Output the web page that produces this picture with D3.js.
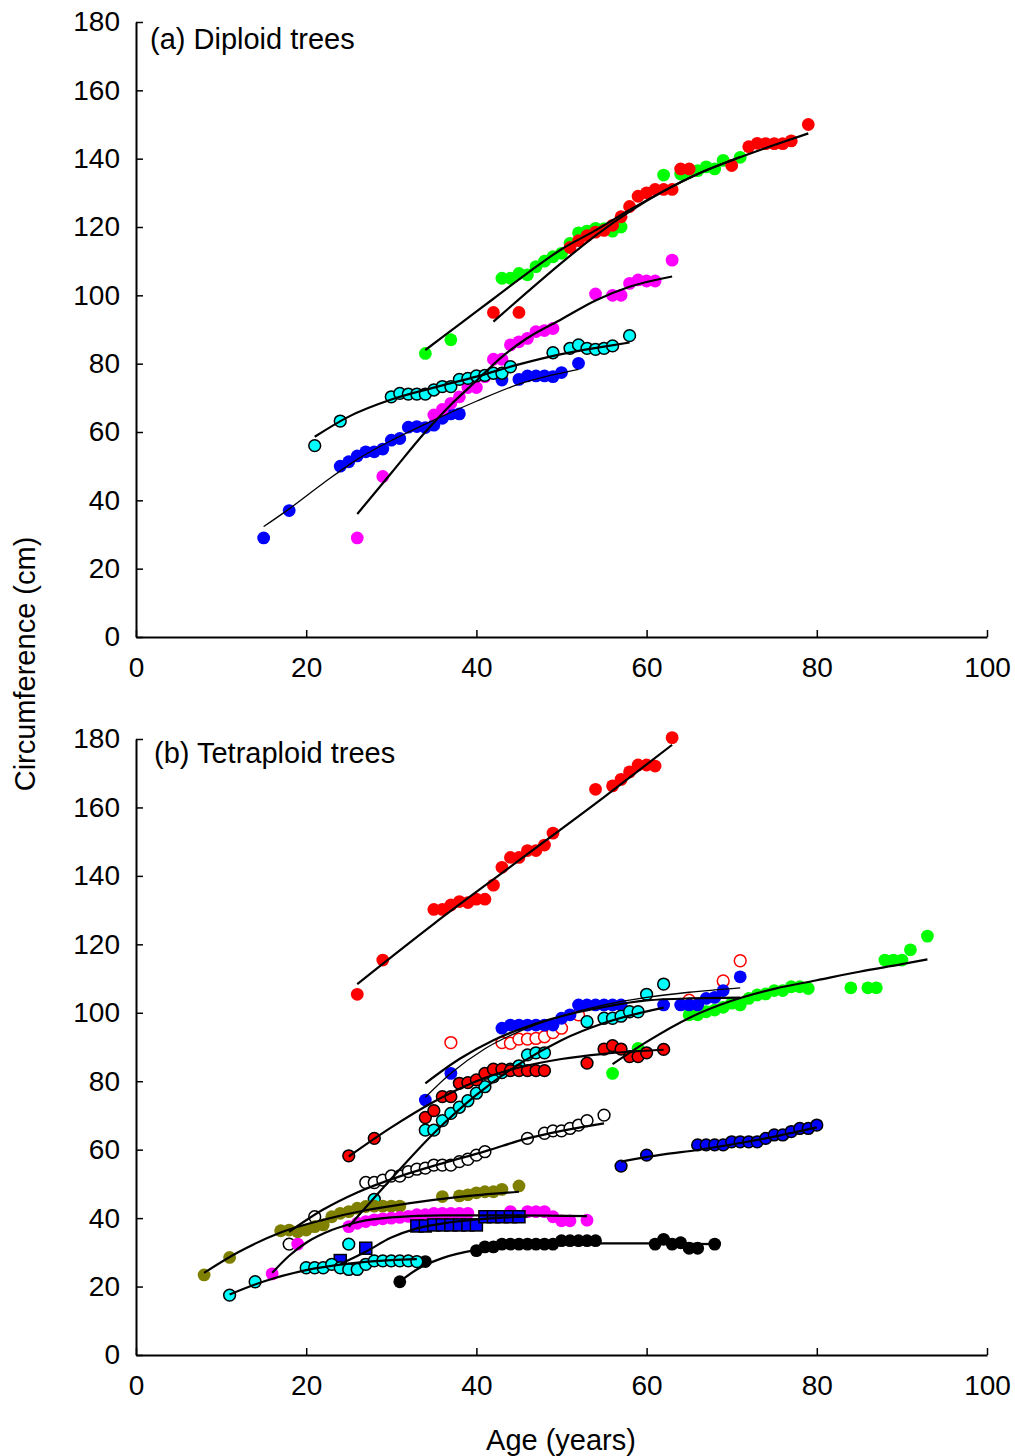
<!DOCTYPE html>
<html>
<head>
<meta charset="utf-8">
<script src="https://cdn.jsdelivr.net/npm/d3@7"></script>
<style>
  body { margin: 0; background: #fff; }
  text { font-family: "Liberation Sans", Arial, sans-serif; fill: #000; }
</style>
</head>
<body>
<script>
// axis ticks
const ageTicks = [0, 20, 40, 60, 80, 100]
const circTicks = [0, 20, 40, 60, 80, 100, 120, 140, 160, 180]

// ---- (a) diploid trees: observed points ----
const dipRedAge = [42, 45, 51, 52, 53, 54, 55, 56, 57, 58, 59, 60, 61, 62, 63, 64, 65, 70, 72, 73, 74, 75, 76, 77, 79]
const dipRedCirc = [95, 95, 114, 116, 117.5, 118.5, 119, 120.5, 123, 126, 129, 130, 131, 131, 131, 137, 137, 138, 143.5, 144.5, 144.4, 144.4, 144.4, 145.2, 150]
const dipGreenAge = [34, 37, 43, 44, 45, 46, 47, 48, 49, 50, 51, 52, 53, 54, 55, 56, 57, 62, 64, 65, 66, 67, 68, 69, 71]
const dipGreenCirc = [83, 87, 105, 105, 106.4, 106, 108.4, 110, 111.3, 112.3, 115.2, 118.3, 118.8, 119.6, 119.5, 118.8, 120, 135.2, 135.5, 136, 136.5, 137.6, 137, 139.5, 140.4]
const dipMagentaAge = [26, 29, 35, 36, 37, 38, 39, 40, 41, 42, 43, 44, 45, 46, 47, 48, 49, 54, 56, 57, 58, 59, 60, 61, 63]
const dipMagentaCirc = [29, 47, 65, 66.6, 68.4, 70.3, 73, 73, 76.2, 81.3, 81.3, 85.5, 86.4, 87.4, 89.4, 89.7, 90.3, 100.4, 100, 100, 103.5, 104.5, 104.2, 104.2, 110.3]
const dipBlueAge = [15, 18, 24, 25, 26, 27, 28, 29, 30, 31, 32, 33, 34, 35, 36, 37, 38, 43, 45, 46, 47, 48, 49, 50, 52]
const dipBlueCirc = [29, 37, 50, 51.3, 53, 54.2, 54.2, 55, 57.6, 58.1, 61.4, 61.6, 61.3, 62, 64, 65.3, 65.3, 75.2, 75.4, 76.4, 76.4, 76.4, 76.2, 77.4, 80.1]
const dipCyanAge = [21, 24, 30, 31, 32, 33, 34, 35, 36, 37, 38, 39, 40, 41, 42, 43, 44, 49, 51, 52, 53, 54, 55, 56, 58]
const dipCyanCirc = [56, 63.2, 70.3, 71.3, 71.1, 71.1, 71.1, 72.3, 73.3, 73.3, 75.4, 75.7, 76.4, 76.6, 77.2, 77.2, 79.1, 83.2, 84.5, 85.5, 84.5, 84.2, 84.5, 85.2, 88.2]

// ---- (a) fitted curves ----
const dipRedFitAge = [42, 46, 50, 54, 58, 62, 66, 70, 75, 79]
const dipRedFitCirc = [92.3, 101, 109.5, 117.5, 124.5, 130.5, 135.5, 139.5, 144, 147.4]
const dipGreenFitAge = [34, 38, 42, 46, 50, 54, 58, 62, 66, 71]
const dipGreenFitCirc = [84, 91.5, 99, 106.5, 113.5, 119, 125, 130.5, 135.5, 140.5]
const dipMagentaFitAge = [26, 30, 34, 37, 40, 43, 46, 50, 54, 58, 63]
const dipMagentaFitCirc = [36, 48, 60, 68, 75, 82, 87.5, 93, 98.5, 102.5, 105.5]
const dipBlueFitAge = [15, 18, 22, 26, 30, 35, 40, 45, 52]
const dipBlueFitCirc = [32.3, 37.5, 45, 52, 57.5, 63.5, 69, 74, 78.3]
const dipCyanFitAge = [21, 25, 30, 35, 40, 45, 50, 55, 58]
const dipCyanFitCirc = [58.6, 64.5, 69.5, 73, 76.2, 79.8, 82.8, 85, 86.2]

// ---- (b) tetraploid trees: observed points ----
const tetRedAge = [26, 29, 35, 36, 37, 38, 39, 40, 41, 42, 43, 44, 45, 46, 47, 48, 49, 54, 56, 57, 58, 59, 60, 61, 63]
const tetRedCirc = [105.4, 115.4, 130.2, 130.2, 131.5, 132.5, 132.2, 133.2, 133.2, 137.3, 142.5, 145.4, 145.4, 147.4, 147.4, 149, 152.5, 165.3, 166.3, 168.2, 170.4, 172.4, 172.4, 172.1, 180.4]
const tetRedRingAge = [25, 28, 34, 35, 36, 37, 38, 39, 40, 41, 42, 43, 44, 45, 46, 47, 48, 53, 55, 56, 57, 58, 59, 60, 62]
const tetRedRingCirc = [58.2, 63.3, 69.4, 71.4, 75.5, 75.5, 79.4, 79.6, 80.4, 82.3, 83.5, 83.5, 83.1, 83.1, 83.1, 83.1, 83.1, 85.3, 89.4, 90.4, 89.4, 87.2, 87.2, 88.3, 89.3]
const tetRedOpenAge = [37, 43, 44, 45, 46, 47, 48, 49, 50, 52, 65, 69, 71]
const tetRedOpenCirc = [91.3, 91.3, 91.1, 92.3, 92.3, 92.5, 93, 94.2, 95.5, 99.4, 103.7, 109.3, 115.2]
const tetBlueAge = [34, 37, 43, 44, 45, 46, 47, 48, 49, 50, 51, 52, 53, 54, 55, 56, 57, 62, 64, 65, 66, 67, 68, 69, 71]
const tetBlueCirc = [74.5, 82.3, 95.5, 96.4, 96.4, 96.4, 96.4, 96.4, 96.4, 98.4, 99.4, 102.3, 102.3, 102.3, 102.3, 102.3, 102.3, 102.3, 102.3, 102.3, 102.3, 104.2, 104.5, 106.5, 110.5]
const tetCyanAge = [25, 28, 34, 35, 36, 37, 38, 39, 40, 41, 42, 43, 44, 45, 46, 47, 48, 53, 55, 56, 57, 58, 59, 60, 62]
const tetCyanCirc = [32.4, 45.5, 65.7, 65.7, 68.5, 70.6, 72.4, 74.3, 76.5, 78.4, 81.3, 82.5, 83.5, 84.5, 87.7, 88.3, 88.3, 97.4, 98.4, 98.4, 99, 100.3, 100.3, 105.4, 108.4]
const tetGreenAge = [56, 59, 65, 66, 67, 68, 69, 70, 71, 72, 73, 74, 75, 76, 77, 78, 79, 84, 86, 87, 88, 89, 90, 91, 93]
const tetGreenCirc = [82.3, 89.6, 99.4, 99.4, 100.3, 100.8, 101.6, 102.8, 102.3, 104.2, 105.2, 105.5, 106.5, 106.5, 107.6, 107.6, 107.1, 107.3, 107.3, 107.3, 115.4, 115.4, 115.4, 118.4, 122.4]
const tetNavyAge = [57, 60, 66, 67, 68, 69, 70, 71, 72, 73, 74, 75, 76, 77, 78, 79, 80]
const tetNavyCirc = [55.2, 58.4, 61.4, 61.4, 61.4, 61.4, 62.3, 62.3, 62.3, 62.3, 63.3, 64.3, 64.3, 65.3, 66.2, 66.2, 67.2]
const tetBlackAge = [31, 34, 40, 41, 42, 43, 44, 45, 46, 47, 48, 49, 50, 51, 52, 53, 54, 61, 62, 63, 64, 65, 66, 68]
const tetBlackCirc = [21.4, 27.3, 30.5, 31.6, 31.6, 32.4, 32.4, 32.4, 32.4, 32.4, 32.4, 32.4, 33.4, 33.4, 33.4, 33.4, 33.4, 32.4, 33.8, 32.4, 32.8, 31.2, 31.2, 32.4]
const tetWhiteAge = [18, 21, 27, 28, 29, 30, 31, 32, 33, 34, 35, 36, 37, 38, 39, 40, 41, 46, 48, 49, 50, 51, 52, 53, 55]
const tetWhiteCirc = [32.4, 40.4, 50.4, 50.4, 51.1, 52.3, 52.3, 53.6, 54.3, 54.6, 55.5, 55.5, 55.5, 56.5, 57.2, 58.4, 59.4, 63.3, 64.8, 65.5, 65.5, 66.2, 67.2, 68.5, 70.1]
const tetOliveAge = [8, 11, 17, 18, 19, 20, 21, 22, 23, 24, 25, 26, 27, 28, 29, 30, 31, 36, 38, 39, 40, 41, 42, 43, 45]
const tetOliveCirc = [23.4, 28.5, 36.3, 36.5, 36, 36.5, 37.5, 38, 40.4, 41.4, 41.9, 42.9, 43.4, 43.5, 43.5, 43.5, 43.5, 46.3, 46.5, 46.8, 47.4, 47.7, 47.7, 48.4, 49.4]
const tetMagentaAge = [16, 19, 25, 26, 27, 28, 29, 30, 31, 32, 33, 34, 35, 36, 37, 38, 39, 44, 46, 47, 48, 49, 50, 51, 53]
const tetMagentaCirc = [23.7, 32.4, 37.5, 38.5, 39, 39.5, 39.8, 40, 40.2, 40.5, 41, 41, 41.4, 41.4, 41.4, 41.4, 41.4, 41.9, 41.9, 41.9, 41.9, 40.4, 39.2, 39.2, 39.4]
const tetSquareAge = [24, 27, 33, 34, 35, 36, 37, 38, 39, 40, 41, 42, 43, 44, 45]
const tetSquareCirc = [27.6, 31.2, 37.7, 37.7, 38, 38, 38, 38, 38, 38, 40.4, 40.4, 40.4, 40.4, 40.4]
const tetCyanLowAge = [11, 14, 20, 21, 22, 23, 24, 25, 26, 27, 28, 29, 30, 31, 32, 33]
const tetCyanLowCirc = [17.5, 21.4, 25.5, 25.5, 25.5, 26.5, 25.5, 25, 25, 26.5, 27.5, 27.5, 27.5, 27.5, 27.5, 27.3]

// ---- (b) fitted curves ----
const tetRedFitAge = [26, 35, 45, 55, 63]
const tetRedFitCirc = [108.4, 126, 144.5, 163, 178.3]
const tetRedRingFitAge = [25, 30, 35, 40, 45, 50, 55, 62]
const tetRedRingFitCirc = [58, 66.5, 74, 80, 84, 86.5, 88, 89.2]
const tetRedOpenFitAge = [34, 38, 42, 46, 50, 55, 60, 65, 71]
const tetRedOpenFitCirc = [79.4, 86.5, 92, 96, 99, 101.7, 103.6, 104.2, 104.4]
const tetBlueFitAge = [34, 37, 41, 45, 50, 55, 60, 65, 71]
const tetBlueFitCirc = [75.3, 82.3, 89.5, 94.5, 99, 102.3, 104.5, 106, 107.3]
const tetCyanFitAge = [25, 30, 35, 40, 45, 50, 55, 62]
const tetCyanFitCirc = [37.5, 51.5, 64.8, 76, 85, 92, 97, 101.5]
const tetGreenFitAge = [56, 60, 65, 70, 75, 80, 85, 90, 93]
const tetGreenFitCirc = [85, 91.5, 98.5, 103.5, 107, 109.5, 112, 114.2, 115.6]
const tetNavyFitAge = [57, 62, 66, 70, 75, 80]
const tetNavyFitCirc = [56.5, 58.6, 59.9, 61.5, 63.8, 66.5]
const tetBlackFitAge = [31, 33, 36, 40, 45, 50, 55, 60, 68]
const tetBlackFitCirc = [21.5, 25, 28.3, 30.7, 32, 32.5, 32.6, 32.6, 32.4]
const tetWhiteFitAge = [18, 22, 26, 31, 36, 41, 46, 50, 55]
const tetWhiteFitCirc = [36, 42.5, 47.5, 52.2, 56, 59.5, 63.3, 65.5, 67.7]
const tetOliveFitAge = [8, 12, 17, 22, 27, 32, 38, 45]
const tetOliveFitCirc = [24, 30, 35.8, 39.5, 42.3, 44.3, 46.2, 47.7]
const tetMagentaFitAge = [16, 18, 20, 23, 26, 30, 36, 45, 53]
const tetMagentaFitCirc = [24, 29, 32.8, 36.5, 38.8, 40.2, 40.8, 40.8, 40.6]
const tetSquareFitAge = [24, 27, 30, 33, 37, 41, 46]
const tetSquareFitCirc = [26.6, 30.2, 34.3, 37, 38.8, 39.8, 40.4]
const tetCyanLowFitAge = [11, 15, 20, 25, 30, 33]
const tetCyanLowFitCirc = [17.7, 21.5, 24.8, 26.7, 27.7, 28]

const zip = (xs, ys) => xs.map((x, i) => ({age: x, circ: ys[i]}))

const W = 1015, H = 1456
const svg = d3.select("body").append("svg").attr("width", W).attr("height", H)

const x = d3.scaleLinear().domain([0, 100]).range([136, 987])

const panels = [
    {
        title: "(a) Diploid trees", top: 22, bottom: 637, titleX: 150, titleY: 49,
        series: [
            {pts: zip(dipBlueAge, dipBlueCirc), fill: "#0000ff", stroke: "none"},
            {pts: zip(dipMagentaAge, dipMagentaCirc), fill: "#ff00ff", stroke: "none"},
            {pts: zip(dipCyanAge, dipCyanCirc), fill: "#00ffff", stroke: "#000"},
            {pts: zip(dipGreenAge, dipGreenCirc), fill: "#00ff00", stroke: "none"},
            {pts: zip(dipRedAge, dipRedCirc), fill: "#ff0000", stroke: "none"}
        ],
        fits: [
            {pts: zip(dipBlueFitAge, dipBlueFitCirc), w: 1.3},
            {pts: zip(dipMagentaFitAge, dipMagentaFitCirc), w: 2.2},
            {pts: zip(dipCyanFitAge, dipCyanFitCirc), w: 2.2},
            {pts: zip(dipGreenFitAge, dipGreenFitCirc), w: 2.2},
            {pts: zip(dipRedFitAge, dipRedFitCirc), w: 2.2}
        ]
    },
    {
        title: "(b) Tetraploid trees", top: 739, bottom: 1355, titleX: 154, titleY: 763,
        series: [
            {pts: zip(tetRedAge, tetRedCirc), fill: "#ff0000", stroke: "none"},
            {pts: zip(tetGreenAge, tetGreenCirc), fill: "#00ff00", stroke: "none"},
            {pts: zip(tetRedOpenAge, tetRedOpenCirc), fill: "#fff", stroke: "#ff0000"},
            {pts: zip(tetBlueAge, tetBlueCirc), fill: "#0000ff", stroke: "none"},
            {pts: zip(tetCyanAge, tetCyanCirc), fill: "#00ffff", stroke: "#000"},
            {pts: zip(tetRedRingAge, tetRedRingCirc), fill: "#ff0000", stroke: "#000"},
            {pts: zip(tetNavyAge, tetNavyCirc), fill: "#0000ff", stroke: "#000"},
            {pts: zip(tetWhiteAge, tetWhiteCirc), fill: "#fff", stroke: "#000"},
            {pts: zip(tetOliveAge, tetOliveCirc), fill: "#808000", stroke: "none"},
            {pts: zip(tetMagentaAge, tetMagentaCirc), fill: "#ff00ff", stroke: "none"},
            {pts: zip(tetSquareAge, tetSquareCirc), fill: "#0000ff", stroke: "#000", square: true},
            {pts: zip(tetBlackAge, tetBlackCirc), fill: "#000", stroke: "none"},
            {pts: zip(tetCyanLowAge, tetCyanLowCirc), fill: "#00ffff", stroke: "#000"}
        ],
        fits: [
            {pts: zip(tetRedFitAge, tetRedFitCirc), w: 2.2},
            {pts: zip(tetGreenFitAge, tetGreenFitCirc), w: 2.2},
            {pts: zip(tetRedOpenFitAge, tetRedOpenFitCirc), w: 2.2},
            {pts: zip(tetBlueFitAge, tetBlueFitCirc), w: 1.3},
            {pts: zip(tetCyanFitAge, tetCyanFitCirc), w: 2.2},
            {pts: zip(tetRedRingFitAge, tetRedRingFitCirc), w: 2.2},
            {pts: zip(tetNavyFitAge, tetNavyFitCirc), w: 2.2},
            {pts: zip(tetWhiteFitAge, tetWhiteFitCirc), w: 2.2},
            {pts: zip(tetOliveFitAge, tetOliveFitCirc), w: 2.2},
            {pts: zip(tetMagentaFitAge, tetMagentaFitCirc), w: 2.2},
            {pts: zip(tetSquareFitAge, tetSquareFitCirc), w: 2.2},
            {pts: zip(tetBlackFitAge, tetBlackFitCirc), w: 2.2},
            {pts: zip(tetCyanLowFitAge, tetCyanLowFitCirc), w: 2.2}
        ]
    }
]

panels.forEach(p => {
    const y = d3.scaleLinear().domain([0, 180]).range([p.bottom, p.top])
    const g = svg.append("g")

    // points
    p.series.forEach(s => {
        if (s.square) {
            g.append("g").selectAll("rect")
                .data(s.pts)
                .join("rect")
                    .attr("x", d => x(d.age) - 6)
                    .attr("y", d => y(d.circ) - 6)
                    .attr("width", 12)
                    .attr("height", 12)
                    .attr("fill", s.fill)
                    .attr("stroke", s.stroke)
                    .attr("stroke-width", 1.5)
        } else {
            g.append("g").selectAll("circle")
                .data(s.pts)
                .join("circle")
                    .attr("cx", d => x(d.age))
                    .attr("cy", d => y(d.circ))
                    .attr("r", s.stroke === "none" ? 6.4 : 5.9)
                    .attr("fill", s.fill)
                    .attr("stroke", s.stroke)
                    .attr("stroke-width", 1.5)
        }
    })

    // fitted curves on top of the points
    const line = d3.line()
        .x(d => x(d.age))
        .y(d => y(d.circ))
        .curve(d3.curveMonotoneX)

    p.fits.forEach(f => {
        g.append("path")
            .attr("d", line(f.pts))
            .attr("fill", "none")
            .attr("stroke", "#000")
            .attr("stroke-width", f.w)
    })

    // axes, ticks pointing inward
    const yAxis = g.append("g")
        .attr("transform", "translate(136,0)")
        .call(d3.axisLeft(y).tickValues(circTicks).tickSizeInner(-7).tickSizeOuter(0).tickPadding(16))
    const xAxis = g.append("g")
        .attr("transform", `translate(0,${p.bottom})`)
        .call(d3.axisBottom(x).tickValues(ageTicks).tickSizeInner(-7).tickSizeOuter(0).tickPadding(20))

    ;[yAxis, xAxis].forEach(a => {
        a.select(".domain").attr("stroke-width", 2)
        a.selectAll(".tick line").attr("stroke-width", 1.5)
        a.selectAll("text")
            .style("font-family", '"Liberation Sans", Arial, sans-serif')
            .style("font-size", "28px")
    })

    g.append("text")
        .attr("x", p.titleX)
        .attr("y", p.titleY)
        .style("font-size", "29px")
        .text(p.title)
})

svg.append("text")
    .attr("transform", "translate(35,664) rotate(-90)")
    .attr("text-anchor", "middle")
    .style("font-size", "29px")
    .text("Circumference (cm)")

svg.append("text")
    .attr("x", 561)
    .attr("y", 1450)
    .attr("text-anchor", "middle")
    .style("font-size", "29px")
    .text("Age (years)")
</script>
</body>
</html>
